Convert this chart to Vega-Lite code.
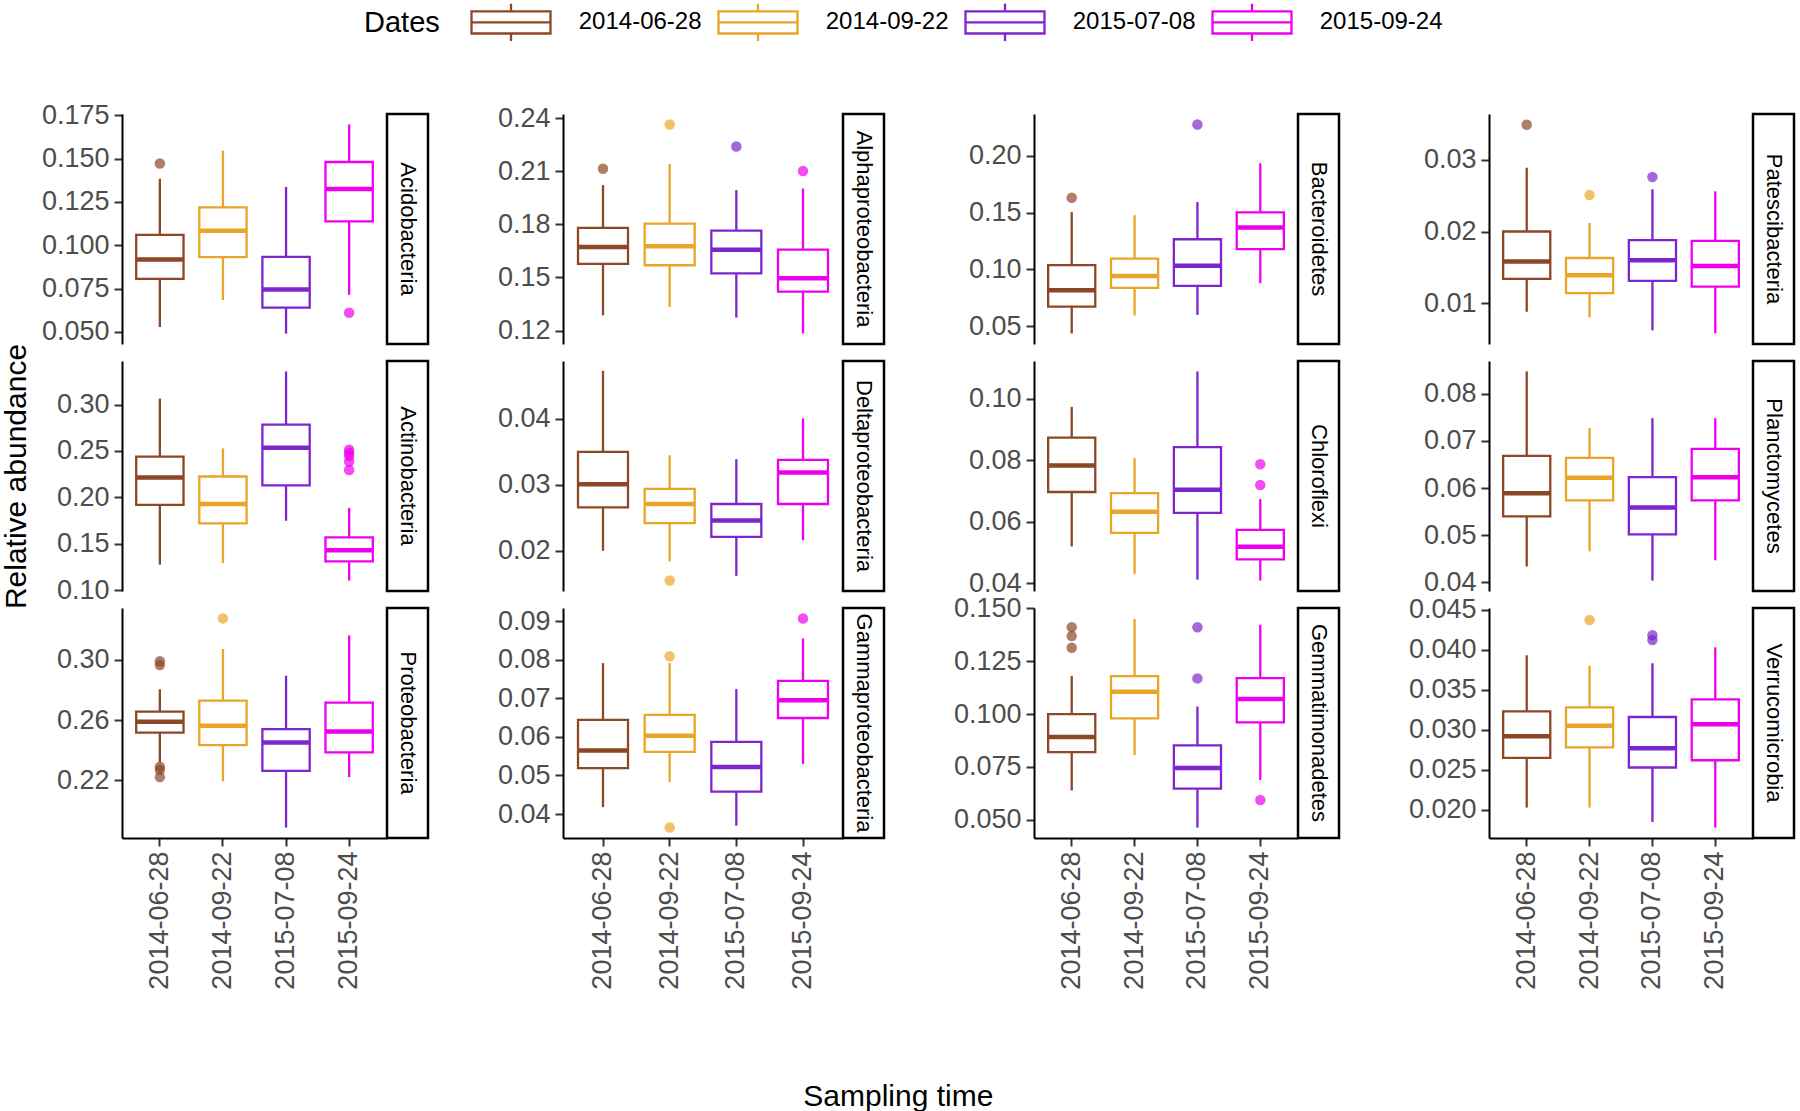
{
"$schema":"https://vega.github.io/schema/vega-lite/v6.json",
"background":"white",
"padding":{"left":1,"top":1,"right":2,"bottom":2},
"datasets":{
"s":[{"phylum":"Acidobacteria"},{"phylum":"Actinobacteria"},{"phylum":"Proteobacteria"},{"phylum":"Alphaproteobacteria"},{"phylum":"Deltaproteobacteria"},{"phylum":"Gammaproteobacteria"},{"phylum":"Bacteroidetes"},{"phylum":"Chloroflexi"},{"phylum":"Gemmatimonadetes"},{"phylum":"Patescibacteria"},{"phylum":"Planctomycetes"},{"phylum":"Verrucomicrobia"}],
"d":[
{"phylum":"Acidobacteria","date":"2014-06-28","lower":0.0528,"q1":0.0806,"median":0.0918,"q3":0.106,"upper":0.1383},
{"phylum":"Acidobacteria","date":"2014-09-22","lower":0.0684,"q1":0.0931,"median":0.1083,"q3":0.1218,"upper":0.1545},
{"phylum":"Acidobacteria","date":"2015-07-08","lower":0.049,"q1":0.064,"median":0.0745,"q3":0.0933,"upper":0.1336},
{"phylum":"Acidobacteria","date":"2015-09-24","lower":0.0714,"q1":0.1138,"median":0.1324,"q3":0.148,"upper":0.1697},
{"phylum":"Acidobacteria","date":"2014-06-28","outlier":0.1471},
{"phylum":"Acidobacteria","date":"2015-09-24","outlier":0.061},
{"phylum":"Alphaproteobacteria","date":"2014-06-28","lower":0.1286,"q1":0.1577,"median":0.1672,"q3":0.178,"upper":0.2022},
{"phylum":"Alphaproteobacteria","date":"2014-09-22","lower":0.1333,"q1":0.1569,"median":0.1677,"q3":0.1804,"upper":0.2141},
{"phylum":"Alphaproteobacteria","date":"2015-07-08","lower":0.1273,"q1":0.1523,"median":0.1657,"q3":0.1765,"upper":0.1994},
{"phylum":"Alphaproteobacteria","date":"2015-09-24","lower":0.1183,"q1":0.142,"median":0.1496,"q3":0.1657,"upper":0.2003},
{"phylum":"Alphaproteobacteria","date":"2014-06-28","outlier":0.2115},
{"phylum":"Alphaproteobacteria","date":"2014-09-22","outlier":0.2365},
{"phylum":"Alphaproteobacteria","date":"2015-07-08","outlier":0.224},
{"phylum":"Alphaproteobacteria","date":"2015-09-24","outlier":0.2102},
{"phylum":"Bacteroidetes","date":"2014-06-28","lower":0.0437,"q1":0.0673,"median":0.0818,"q3":0.1038,"upper":0.1506},
{"phylum":"Bacteroidetes","date":"2014-09-22","lower":0.0595,"q1":0.0838,"median":0.0942,"q3":0.1095,"upper":0.1477},
{"phylum":"Bacteroidetes","date":"2015-07-08","lower":0.0601,"q1":0.0856,"median":0.1032,"q3":0.1266,"upper":0.1593},
{"phylum":"Bacteroidetes","date":"2015-09-24","lower":0.0879,"q1":0.1179,"median":0.137,"q3":0.1503,"upper":0.1934},
{"phylum":"Bacteroidetes","date":"2014-06-28","outlier":0.163},
{"phylum":"Bacteroidetes","date":"2015-07-08","outlier":0.2275},
{"phylum":"Patescibacteria","date":"2014-06-28","lower":0.0088,"q1":0.0134,"median":0.0158,"q3":0.02,"upper":0.0289},
{"phylum":"Patescibacteria","date":"2014-09-22","lower":0.008,"q1":0.0114,"median":0.0139,"q3":0.0163,"upper":0.0212},
{"phylum":"Patescibacteria","date":"2015-07-08","lower":0.0062,"q1":0.0131,"median":0.016,"q3":0.0188,"upper":0.0259},
{"phylum":"Patescibacteria","date":"2015-09-24","lower":0.0058,"q1":0.0123,"median":0.0152,"q3":0.0187,"upper":0.0256},
{"phylum":"Patescibacteria","date":"2014-06-28","outlier":0.0349},
{"phylum":"Patescibacteria","date":"2014-09-22","outlier":0.0251},
{"phylum":"Patescibacteria","date":"2015-07-08","outlier":0.0276},
{"phylum":"Actinobacteria","date":"2014-06-28","lower":0.1274,"q1":0.1918,"median":0.2213,"q3":0.2438,"upper":0.3064},
{"phylum":"Actinobacteria","date":"2014-09-22","lower":0.1292,"q1":0.1719,"median":0.1929,"q3":0.2224,"upper":0.2527},
{"phylum":"Actinobacteria","date":"2015-07-08","lower":0.1747,"q1":0.2128,"median":0.2534,"q3":0.2783,"upper":0.3356},
{"phylum":"Actinobacteria","date":"2015-09-24","lower":0.1103,"q1":0.131,"median":0.143,"q3":0.1569,"upper":0.1886},
{"phylum":"Actinobacteria","date":"2015-09-24","outlier":0.2512},
{"phylum":"Actinobacteria","date":"2015-09-24","outlier":0.248},
{"phylum":"Actinobacteria","date":"2015-09-24","outlier":0.2445},
{"phylum":"Actinobacteria","date":"2015-09-24","outlier":0.2385},
{"phylum":"Actinobacteria","date":"2015-09-24","outlier":0.2295},
{"phylum":"Deltaproteobacteria","date":"2014-06-28","lower":0.02,"q1":0.0266,"median":0.0301,"q3":0.035,"upper":0.0473},
{"phylum":"Deltaproteobacteria","date":"2014-09-22","lower":0.0184,"q1":0.0242,"median":0.0271,"q3":0.0294,"upper":0.0345},
{"phylum":"Deltaproteobacteria","date":"2015-07-08","lower":0.0162,"q1":0.0221,"median":0.0246,"q3":0.0271,"upper":0.0339},
{"phylum":"Deltaproteobacteria","date":"2015-09-24","lower":0.0216,"q1":0.0271,"median":0.0319,"q3":0.0338,"upper":0.0401},
{"phylum":"Deltaproteobacteria","date":"2014-09-22","outlier":0.0155},
{"phylum":"Chloroflexi","date":"2014-06-28","lower":0.0519,"q1":0.0696,"median":0.0782,"q3":0.0873,"upper":0.0973},
{"phylum":"Chloroflexi","date":"2014-09-22","lower":0.0429,"q1":0.0563,"median":0.0632,"q3":0.0692,"upper":0.0806},
{"phylum":"Chloroflexi","date":"2015-07-08","lower":0.0411,"q1":0.0628,"median":0.0703,"q3":0.0842,"upper":0.1088},
{"phylum":"Chloroflexi","date":"2015-09-24","lower":0.0408,"q1":0.0477,"median":0.0518,"q3":0.0573,"upper":0.0673},
{"phylum":"Chloroflexi","date":"2015-09-24","outlier":0.0786},
{"phylum":"Chloroflexi","date":"2015-09-24","outlier":0.0719},
{"phylum":"Planctomycetes","date":"2014-06-28","lower":0.0434,"q1":0.054,"median":0.0589,"q3":0.0668,"upper":0.0847},
{"phylum":"Planctomycetes","date":"2014-09-22","lower":0.0466,"q1":0.0574,"median":0.0622,"q3":0.0664,"upper":0.0727},
{"phylum":"Planctomycetes","date":"2015-07-08","lower":0.0404,"q1":0.0502,"median":0.0559,"q3":0.0623,"upper":0.0748},
{"phylum":"Planctomycetes","date":"2015-09-24","lower":0.0447,"q1":0.0574,"median":0.0623,"q3":0.0683,"upper":0.0748},
{"phylum":"Proteobacteria","date":"2014-06-28","lower":0.232,"q1":0.2517,"median":0.2589,"q3":0.2657,"upper":0.2805},
{"phylum":"Proteobacteria","date":"2014-09-22","lower":0.2193,"q1":0.2434,"median":0.2563,"q3":0.2729,"upper":0.3072},
{"phylum":"Proteobacteria","date":"2015-07-08","lower":0.1887,"q1":0.2263,"median":0.2451,"q3":0.2541,"upper":0.2895},
{"phylum":"Proteobacteria","date":"2015-09-24","lower":0.2222,"q1":0.2386,"median":0.2524,"q3":0.2716,"upper":0.3162},
{"phylum":"Proteobacteria","date":"2014-06-28","outlier":0.2991},
{"phylum":"Proteobacteria","date":"2014-06-28","outlier":0.2965},
{"phylum":"Proteobacteria","date":"2014-06-28","outlier":0.229},
{"phylum":"Proteobacteria","date":"2014-06-28","outlier":0.227},
{"phylum":"Proteobacteria","date":"2014-06-28","outlier":0.2222},
{"phylum":"Proteobacteria","date":"2014-09-22","outlier":0.3275},
{"phylum":"Gammaproteobacteria","date":"2014-06-28","lower":0.0418,"q1":0.0519,"median":0.0565,"q3":0.0644,"upper":0.0791},
{"phylum":"Gammaproteobacteria","date":"2014-09-22","lower":0.0483,"q1":0.0561,"median":0.0603,"q3":0.0657,"upper":0.0792},
{"phylum":"Gammaproteobacteria","date":"2015-07-08","lower":0.037,"q1":0.0458,"median":0.0522,"q3":0.0587,"upper":0.0724},
{"phylum":"Gammaproteobacteria","date":"2015-09-24","lower":0.053,"q1":0.0649,"median":0.0695,"q3":0.0745,"upper":0.0855},
{"phylum":"Gammaproteobacteria","date":"2014-09-22","outlier":0.0809},
{"phylum":"Gammaproteobacteria","date":"2014-09-22","outlier":0.0365},
{"phylum":"Gammaproteobacteria","date":"2015-09-24","outlier":0.0907},
{"phylum":"Gemmatimonadetes","date":"2014-06-28","lower":0.0639,"q1":0.082,"median":0.0892,"q3":0.1,"upper":0.1181},
{"phylum":"Gemmatimonadetes","date":"2014-09-22","lower":0.0806,"q1":0.098,"median":0.1106,"q3":0.118,"upper":0.145},
{"phylum":"Gemmatimonadetes","date":"2015-07-08","lower":0.0463,"q1":0.0648,"median":0.0745,"q3":0.0852,"upper":0.1036},
{"phylum":"Gemmatimonadetes","date":"2015-09-24","lower":0.0689,"q1":0.0961,"median":0.1072,"q3":0.117,"upper":0.1423},
{"phylum":"Gemmatimonadetes","date":"2014-06-28","outlier":0.1411},
{"phylum":"Gemmatimonadetes","date":"2014-06-28","outlier":0.1369},
{"phylum":"Gemmatimonadetes","date":"2014-06-28","outlier":0.1314},
{"phylum":"Gemmatimonadetes","date":"2015-07-08","outlier":0.1411},
{"phylum":"Gemmatimonadetes","date":"2015-07-08","outlier":0.1169},
{"phylum":"Gemmatimonadetes","date":"2015-09-24","outlier":0.0594},
{"phylum":"Verrucomicrobia","date":"2014-06-28","lower":0.0203,"q1":0.0265,"median":0.0292,"q3":0.0323,"upper":0.0393},
{"phylum":"Verrucomicrobia","date":"2014-09-22","lower":0.0203,"q1":0.0278,"median":0.0305,"q3":0.0328,"upper":0.038},
{"phylum":"Verrucomicrobia","date":"2015-07-08","lower":0.0185,"q1":0.0253,"median":0.0277,"q3":0.0316,"upper":0.0383},
{"phylum":"Verrucomicrobia","date":"2015-09-24","lower":0.0178,"q1":0.0262,"median":0.0307,"q3":0.0338,"upper":0.0403},
{"phylum":"Verrucomicrobia","date":"2014-09-22","outlier":0.0437},
{"phylum":"Verrucomicrobia","date":"2015-07-08","outlier":0.0418},
{"phylum":"Verrucomicrobia","date":"2015-07-08","outlier":0.0412}
]},
"data":{"name":"d"},
"title":{"text":"Sampling time","orient":"bottom","anchor":"middle","frame":"bounds","fontSize":30,"fontWeight":"normal","color":"black","offset":93},
"columns":11,
"spacing":{"row":17,"column":0},
"bounds":"flush",
"align":"each",
"concat":[
  {"width":265,"height":230,"transform":[{"filter":"datum.phylum === 'Acidobacteria'"}],
   "encoding":{"x":{"field":"date","type":"nominal","title":null,"scale":{"paddingInner":0.25,"paddingOuter":0.225},"axis":null}},
   "layer":[
    {"mark":{"type":"rule","strokeWidth":2.3},"encoding":{"y":{"field":"lower","type":"quantitative","title":null,"scale":{"domain":[0.043,0.1757],"nice":false,"zero":false},"axis":{"values":[0.05,0.075,0.1,0.125,0.15,0.175],"format":".3f"}},"y2":{"field":"q1"},
     "color":{"field":"date","type":"nominal","title":"Dates","scale":{"domain":["2014-06-28","2014-09-22","2015-07-08","2015-09-24"],"range":["#8B4726","#E9A626","#7D26CD","#EE00EE"]},
      "legend":{"orient":"none","legendX":242,"legendY":-113,"direction":"horizontal","padding":0,"titleOrient":"left","titleAnchor":"middle","titleBaseline":"middle","titleFontSize":29,"titleFontWeight":"normal","titleColor":"black","titlePadding":50,"labelFontSize":24,"labelColor":"black","labelOffset":46.75,"columnPadding":10,"symbolType":"M-2.06,-0.56H2.06M2,-0.56V0.56M2.06,0.56H-2.06M-2,0.56V-0.56M-2,0H2M0,-0.56V-0.94M0,0.56V0.94","symbolSize":1560,"symbolStrokeWidth":2.3,"symbolFillColor":"white","symbolOpacity":1}}}},
    {"mark":{"type":"rule","strokeWidth":2.3},"encoding":{"y":{"field":"q3","type":"quantitative","title":null},"y2":{"field":"upper"},"color":{"field":"date","type":"nominal","legend":null}}},
    {"mark":{"type":"bar","filled":false,"strokeWidth":2.3},"encoding":{"y":{"field":"q1","type":"quantitative","title":null},"y2":{"field":"q3"},"color":{"field":"date","type":"nominal","legend":null}}},
    {"mark":{"type":"bar","filled":false,"strokeWidth":4.5},"encoding":{"y":{"field":"median","type":"quantitative","title":null},"y2":{"field":"median"},"color":{"field":"date","type":"nominal","legend":null}}},
    {"mark":{"type":"point","filled":true,"opacity":0.7,"size":110,"strokeWidth":0},"encoding":{"y":{"field":"outlier","type":"quantitative","title":null},"fill":{"field":"date","type":"nominal","scale":{"domain":["2014-06-28","2014-09-22","2015-07-08","2015-09-24"],"range":["#8B4726","#E9A626","#7D26CD","#EE00EE"]},"legend":null}}}
   ]},
  {"width":41,"height":230,"data":{"name":"s"},"transform":[{"filter":"datum.phylum === 'Acidobacteria'"}],"view":{"stroke":"black","strokeWidth":2.5},"mark":{"type":"text","angle":90,"fontSize":22,"color":"black"},"encoding":{"text":{"field":"phylum"}}},
  {"width":135,"height":230,"data":{"values":[]},"mark":"text","encoding":{}},
  {"width":280,"height":230,"transform":[{"filter":"datum.phylum === 'Alphaproteobacteria'"}],
   "encoding":{"x":{"field":"date","type":"nominal","title":null,"scale":{"paddingInner":0.25,"paddingOuter":0.225},"axis":null}},
   "layer":[
    {"mark":{"type":"rule","strokeWidth":2.3},"encoding":{"y":{"field":"lower","type":"quantitative","title":null,"scale":{"domain":[0.1124,0.2424],"nice":false,"zero":false},"axis":{"values":[0.12,0.15,0.18,0.21,0.24],"format":".2f"}},"y2":{"field":"q1"},"color":{"field":"date","type":"nominal","legend":null}}},
    {"mark":{"type":"rule","strokeWidth":2.3},"encoding":{"y":{"field":"q3","type":"quantitative","title":null},"y2":{"field":"upper"},"color":{"field":"date","type":"nominal","legend":null}}},
    {"mark":{"type":"bar","filled":false,"strokeWidth":2.3},"encoding":{"y":{"field":"q1","type":"quantitative","title":null},"y2":{"field":"q3"},"color":{"field":"date","type":"nominal","legend":null}}},
    {"mark":{"type":"bar","filled":false,"strokeWidth":4.5},"encoding":{"y":{"field":"median","type":"quantitative","title":null},"y2":{"field":"median"},"color":{"field":"date","type":"nominal","legend":null}}},
    {"mark":{"type":"point","filled":true,"opacity":0.7,"size":110,"strokeWidth":0},"encoding":{"y":{"field":"outlier","type":"quantitative","title":null},"fill":{"field":"date","type":"nominal","legend":null}}}
   ]},
  {"width":41,"height":230,"data":{"name":"s"},"transform":[{"filter":"datum.phylum === 'Alphaproteobacteria'"}],"view":{"stroke":"black","strokeWidth":2.5},"mark":{"type":"text","angle":90,"fontSize":22,"color":"black"},"encoding":{"text":{"field":"phylum"}}},
  {"width":150,"height":230,"data":{"values":[]},"mark":"text","encoding":{}},
  {"width":264,"height":230,"transform":[{"filter":"datum.phylum === 'Bacteroidetes'"}],
   "encoding":{"x":{"field":"date","type":"nominal","title":null,"scale":{"paddingInner":0.25,"paddingOuter":0.225},"axis":null}},
   "layer":[
    {"mark":{"type":"rule","strokeWidth":2.3},"encoding":{"y":{"field":"lower","type":"quantitative","title":null,"scale":{"domain":[0.0345,0.2367],"nice":false,"zero":false},"axis":{"values":[0.05,0.1,0.15,0.2],"format":".2f"}},"y2":{"field":"q1"},"color":{"field":"date","type":"nominal","legend":null}}},
    {"mark":{"type":"rule","strokeWidth":2.3},"encoding":{"y":{"field":"q3","type":"quantitative","title":null},"y2":{"field":"upper"},"color":{"field":"date","type":"nominal","legend":null}}},
    {"mark":{"type":"bar","filled":false,"strokeWidth":2.3},"encoding":{"y":{"field":"q1","type":"quantitative","title":null},"y2":{"field":"q3"},"color":{"field":"date","type":"nominal","legend":null}}},
    {"mark":{"type":"bar","filled":false,"strokeWidth":4.5},"encoding":{"y":{"field":"median","type":"quantitative","title":null},"y2":{"field":"median"},"color":{"field":"date","type":"nominal","legend":null}}},
    {"mark":{"type":"point","filled":true,"opacity":0.7,"size":110,"strokeWidth":0},"encoding":{"y":{"field":"outlier","type":"quantitative","title":null},"fill":{"field":"date","type":"nominal","legend":null}}}
   ]},
  {"width":41,"height":230,"data":{"name":"s"},"transform":[{"filter":"datum.phylum === 'Bacteroidetes'"}],"view":{"stroke":"black","strokeWidth":2.5},"mark":{"type":"text","angle":90,"fontSize":22,"color":"black"},"encoding":{"text":{"field":"phylum"}}},
  {"width":150,"height":230,"data":{"values":[]},"mark":"text","encoding":{}},
  {"width":264,"height":230,"transform":[{"filter":"datum.phylum === 'Patescibacteria'"}],
   "encoding":{"x":{"field":"date","type":"nominal","title":null,"scale":{"paddingInner":0.25,"paddingOuter":0.225},"axis":null}},
   "layer":[
    {"mark":{"type":"rule","strokeWidth":2.3},"encoding":{"y":{"field":"lower","type":"quantitative","title":null,"scale":{"domain":[0.0043,0.0364],"nice":false,"zero":false},"axis":{"values":[0.01,0.02,0.03],"format":".2f"}},"y2":{"field":"q1"},"color":{"field":"date","type":"nominal","legend":null}}},
    {"mark":{"type":"rule","strokeWidth":2.3},"encoding":{"y":{"field":"q3","type":"quantitative","title":null},"y2":{"field":"upper"},"color":{"field":"date","type":"nominal","legend":null}}},
    {"mark":{"type":"bar","filled":false,"strokeWidth":2.3},"encoding":{"y":{"field":"q1","type":"quantitative","title":null},"y2":{"field":"q3"},"color":{"field":"date","type":"nominal","legend":null}}},
    {"mark":{"type":"bar","filled":false,"strokeWidth":4.5},"encoding":{"y":{"field":"median","type":"quantitative","title":null},"y2":{"field":"median"},"color":{"field":"date","type":"nominal","legend":null}}},
    {"mark":{"type":"point","filled":true,"opacity":0.7,"size":110,"strokeWidth":0},"encoding":{"y":{"field":"outlier","type":"quantitative","title":null},"fill":{"field":"date","type":"nominal","legend":null}}}
   ]},
  {"width":41,"height":230,"data":{"name":"s"},"transform":[{"filter":"datum.phylum === 'Patescibacteria'"}],"view":{"stroke":"black","strokeWidth":2.5},"mark":{"type":"text","angle":90,"fontSize":22,"color":"black"},"encoding":{"text":{"field":"phylum"}}},

  {"width":265,"height":230,"transform":[{"filter":"datum.phylum === 'Actinobacteria'"}],
   "encoding":{"x":{"field":"date","type":"nominal","title":null,"scale":{"paddingInner":0.25,"paddingOuter":0.225},"axis":null}},
   "layer":[
    {"mark":{"type":"rule","strokeWidth":2.3},"encoding":{"y":{"field":"lower","type":"quantitative","title":"Relative abundance","scale":{"domain":[0.099,0.3469],"nice":false,"zero":false},"axis":{"values":[0.1,0.15,0.2,0.25,0.3],"format":".2f","titlePadding":25}},"y2":{"field":"q1"},"color":{"field":"date","type":"nominal","legend":null}}},
    {"mark":{"type":"rule","strokeWidth":2.3},"encoding":{"y":{"field":"q3","type":"quantitative","title":"Relative abundance"},"y2":{"field":"upper"},"color":{"field":"date","type":"nominal","legend":null}}},
    {"mark":{"type":"bar","filled":false,"strokeWidth":2.3},"encoding":{"y":{"field":"q1","type":"quantitative","title":"Relative abundance"},"y2":{"field":"q3"},"color":{"field":"date","type":"nominal","legend":null}}},
    {"mark":{"type":"bar","filled":false,"strokeWidth":4.5},"encoding":{"y":{"field":"median","type":"quantitative","title":"Relative abundance"},"y2":{"field":"median"},"color":{"field":"date","type":"nominal","legend":null}}},
    {"mark":{"type":"point","filled":true,"opacity":0.7,"size":110,"strokeWidth":0},"encoding":{"y":{"field":"outlier","type":"quantitative","title":"Relative abundance"},"fill":{"field":"date","type":"nominal","legend":null}}}
   ]},
  {"width":41,"height":230,"data":{"name":"s"},"transform":[{"filter":"datum.phylum === 'Actinobacteria'"}],"view":{"stroke":"black","strokeWidth":2.5},"mark":{"type":"text","angle":90,"fontSize":22,"color":"black"},"encoding":{"text":{"field":"phylum"}}},
  {"width":135,"height":230,"data":{"values":[]},"mark":"text","encoding":{}},
  {"width":280,"height":230,"transform":[{"filter":"datum.phylum === 'Deltaproteobacteria'"}],
   "encoding":{"x":{"field":"date","type":"nominal","title":null,"scale":{"paddingInner":0.25,"paddingOuter":0.225},"axis":null}},
   "layer":[
    {"mark":{"type":"rule","strokeWidth":2.3},"encoding":{"y":{"field":"lower","type":"quantitative","title":null,"scale":{"domain":[0.0139,0.0488],"nice":false,"zero":false},"axis":{"values":[0.02,0.03,0.04],"format":".2f"}},"y2":{"field":"q1"},"color":{"field":"date","type":"nominal","legend":null}}},
    {"mark":{"type":"rule","strokeWidth":2.3},"encoding":{"y":{"field":"q3","type":"quantitative","title":null},"y2":{"field":"upper"},"color":{"field":"date","type":"nominal","legend":null}}},
    {"mark":{"type":"bar","filled":false,"strokeWidth":2.3},"encoding":{"y":{"field":"q1","type":"quantitative","title":null},"y2":{"field":"q3"},"color":{"field":"date","type":"nominal","legend":null}}},
    {"mark":{"type":"bar","filled":false,"strokeWidth":4.5},"encoding":{"y":{"field":"median","type":"quantitative","title":null},"y2":{"field":"median"},"color":{"field":"date","type":"nominal","legend":null}}},
    {"mark":{"type":"point","filled":true,"opacity":0.7,"size":110,"strokeWidth":0},"encoding":{"y":{"field":"outlier","type":"quantitative","title":null},"fill":{"field":"date","type":"nominal","legend":null}}}
   ]},
  {"width":41,"height":230,"data":{"name":"s"},"transform":[{"filter":"datum.phylum === 'Deltaproteobacteria'"}],"view":{"stroke":"black","strokeWidth":2.5},"mark":{"type":"text","angle":90,"fontSize":22,"color":"black"},"encoding":{"text":{"field":"phylum"}}},
  {"width":150,"height":230,"data":{"values":[]},"mark":"text","encoding":{}},
  {"width":264,"height":230,"transform":[{"filter":"datum.phylum === 'Chloroflexi'"}],
   "encoding":{"x":{"field":"date","type":"nominal","title":null,"scale":{"paddingInner":0.25,"paddingOuter":0.225},"axis":null}},
   "layer":[
    {"mark":{"type":"rule","strokeWidth":2.3},"encoding":{"y":{"field":"lower","type":"quantitative","title":null,"scale":{"domain":[0.0374,0.1122],"nice":false,"zero":false},"axis":{"values":[0.04,0.06,0.08,0.1],"format":".2f"}},"y2":{"field":"q1"},"color":{"field":"date","type":"nominal","legend":null}}},
    {"mark":{"type":"rule","strokeWidth":2.3},"encoding":{"y":{"field":"q3","type":"quantitative","title":null},"y2":{"field":"upper"},"color":{"field":"date","type":"nominal","legend":null}}},
    {"mark":{"type":"bar","filled":false,"strokeWidth":2.3},"encoding":{"y":{"field":"q1","type":"quantitative","title":null},"y2":{"field":"q3"},"color":{"field":"date","type":"nominal","legend":null}}},
    {"mark":{"type":"bar","filled":false,"strokeWidth":4.5},"encoding":{"y":{"field":"median","type":"quantitative","title":null},"y2":{"field":"median"},"color":{"field":"date","type":"nominal","legend":null}}},
    {"mark":{"type":"point","filled":true,"opacity":0.7,"size":110,"strokeWidth":0},"encoding":{"y":{"field":"outlier","type":"quantitative","title":null},"fill":{"field":"date","type":"nominal","legend":null}}}
   ]},
  {"width":41,"height":230,"data":{"name":"s"},"transform":[{"filter":"datum.phylum === 'Chloroflexi'"}],"view":{"stroke":"black","strokeWidth":2.5},"mark":{"type":"text","angle":90,"fontSize":22,"color":"black"},"encoding":{"text":{"field":"phylum"}}},
  {"width":150,"height":230,"data":{"values":[]},"mark":"text","encoding":{}},
  {"width":264,"height":230,"transform":[{"filter":"datum.phylum === 'Planctomycetes'"}],
   "encoding":{"x":{"field":"date","type":"nominal","title":null,"scale":{"paddingInner":0.25,"paddingOuter":0.225},"axis":null}},
   "layer":[
    {"mark":{"type":"rule","strokeWidth":2.3},"encoding":{"y":{"field":"lower","type":"quantitative","title":null,"scale":{"domain":[0.0382,0.0869],"nice":false,"zero":false},"axis":{"values":[0.04,0.05,0.06,0.07,0.08],"format":".2f"}},"y2":{"field":"q1"},"color":{"field":"date","type":"nominal","legend":null}}},
    {"mark":{"type":"rule","strokeWidth":2.3},"encoding":{"y":{"field":"q3","type":"quantitative","title":null},"y2":{"field":"upper"},"color":{"field":"date","type":"nominal","legend":null}}},
    {"mark":{"type":"bar","filled":false,"strokeWidth":2.3},"encoding":{"y":{"field":"q1","type":"quantitative","title":null},"y2":{"field":"q3"},"color":{"field":"date","type":"nominal","legend":null}}},
    {"mark":{"type":"bar","filled":false,"strokeWidth":4.5},"encoding":{"y":{"field":"median","type":"quantitative","title":null},"y2":{"field":"median"},"color":{"field":"date","type":"nominal","legend":null}}},
    {"mark":{"type":"point","filled":true,"opacity":0.7,"size":110,"strokeWidth":0},"encoding":{"y":{"field":"outlier","type":"quantitative","title":null},"fill":{"field":"date","type":"nominal","legend":null}}}
   ]},
  {"width":41,"height":230,"data":{"name":"s"},"transform":[{"filter":"datum.phylum === 'Planctomycetes'"}],"view":{"stroke":"black","strokeWidth":2.5},"mark":{"type":"text","angle":90,"fontSize":22,"color":"black"},"encoding":{"text":{"field":"phylum"}}},

  {"width":265,"height":230,"transform":[{"filter":"datum.phylum === 'Proteobacteria'"}],
   "encoding":{"x":{"field":"date","type":"nominal","title":null,"scale":{"paddingInner":0.25,"paddingOuter":0.225},"axis":{"labelAngle":-90,"title":null}}},
   "layer":[
    {"mark":{"type":"rule","strokeWidth":2.3},"encoding":{"y":{"field":"lower","type":"quantitative","title":null,"scale":{"domain":[0.1818,0.3344],"nice":false,"zero":false},"axis":{"values":[0.22,0.26,0.3],"format":".2f"}},"y2":{"field":"q1"},"color":{"field":"date","type":"nominal","legend":null}}},
    {"mark":{"type":"rule","strokeWidth":2.3},"encoding":{"y":{"field":"q3","type":"quantitative","title":null},"y2":{"field":"upper"},"color":{"field":"date","type":"nominal","legend":null}}},
    {"mark":{"type":"bar","filled":false,"strokeWidth":2.3},"encoding":{"y":{"field":"q1","type":"quantitative","title":null},"y2":{"field":"q3"},"color":{"field":"date","type":"nominal","legend":null}}},
    {"mark":{"type":"bar","filled":false,"strokeWidth":4.5},"encoding":{"y":{"field":"median","type":"quantitative","title":null},"y2":{"field":"median"},"color":{"field":"date","type":"nominal","legend":null}}},
    {"mark":{"type":"point","filled":true,"opacity":0.7,"size":110,"strokeWidth":0},"encoding":{"y":{"field":"outlier","type":"quantitative","title":null},"fill":{"field":"date","type":"nominal","legend":null}}}
   ]},
  {"width":41,"height":230,"data":{"name":"s"},"transform":[{"filter":"datum.phylum === 'Proteobacteria'"}],"view":{"stroke":"black","strokeWidth":2.5},"mark":{"type":"text","angle":90,"fontSize":22,"color":"black"},"encoding":{"text":{"field":"phylum"}}},
  {"width":135,"height":230,"data":{"values":[]},"mark":"text","encoding":{}},
  {"width":280,"height":230,"transform":[{"filter":"datum.phylum === 'Gammaproteobacteria'"}],
   "encoding":{"x":{"field":"date","type":"nominal","title":null,"scale":{"paddingInner":0.25,"paddingOuter":0.225},"axis":{"labelAngle":-90,"title":null}}},
   "layer":[
    {"mark":{"type":"rule","strokeWidth":2.3},"encoding":{"y":{"field":"lower","type":"quantitative","title":null,"scale":{"domain":[0.0338,0.0934],"nice":false,"zero":false},"axis":{"values":[0.04,0.05,0.06,0.07,0.08,0.09],"format":".2f"}},"y2":{"field":"q1"},"color":{"field":"date","type":"nominal","legend":null}}},
    {"mark":{"type":"rule","strokeWidth":2.3},"encoding":{"y":{"field":"q3","type":"quantitative","title":null},"y2":{"field":"upper"},"color":{"field":"date","type":"nominal","legend":null}}},
    {"mark":{"type":"bar","filled":false,"strokeWidth":2.3},"encoding":{"y":{"field":"q1","type":"quantitative","title":null},"y2":{"field":"q3"},"color":{"field":"date","type":"nominal","legend":null}}},
    {"mark":{"type":"bar","filled":false,"strokeWidth":4.5},"encoding":{"y":{"field":"median","type":"quantitative","title":null},"y2":{"field":"median"},"color":{"field":"date","type":"nominal","legend":null}}},
    {"mark":{"type":"point","filled":true,"opacity":0.7,"size":110,"strokeWidth":0},"encoding":{"y":{"field":"outlier","type":"quantitative","title":null},"fill":{"field":"date","type":"nominal","legend":null}}}
   ]},
  {"width":41,"height":230,"data":{"name":"s"},"transform":[{"filter":"datum.phylum === 'Gammaproteobacteria'"}],"view":{"stroke":"black","strokeWidth":2.5},"mark":{"type":"text","angle":90,"fontSize":22,"color":"black"},"encoding":{"text":{"field":"phylum"}}},
  {"width":150,"height":230,"data":{"values":[]},"mark":"text","encoding":{}},
  {"width":264,"height":230,"transform":[{"filter":"datum.phylum === 'Gemmatimonadetes'"}],
   "encoding":{"x":{"field":"date","type":"nominal","title":null,"scale":{"paddingInner":0.25,"paddingOuter":0.225},"axis":{"labelAngle":-90,"title":null}}},
   "layer":[
    {"mark":{"type":"rule","strokeWidth":2.3},"encoding":{"y":{"field":"lower","type":"quantitative","title":null,"scale":{"domain":[0.0414,0.1502],"nice":false,"zero":false},"axis":{"values":[0.05,0.075,0.1,0.125,0.15],"format":".3f"}},"y2":{"field":"q1"},"color":{"field":"date","type":"nominal","legend":null}}},
    {"mark":{"type":"rule","strokeWidth":2.3},"encoding":{"y":{"field":"q3","type":"quantitative","title":null},"y2":{"field":"upper"},"color":{"field":"date","type":"nominal","legend":null}}},
    {"mark":{"type":"bar","filled":false,"strokeWidth":2.3},"encoding":{"y":{"field":"q1","type":"quantitative","title":null},"y2":{"field":"q3"},"color":{"field":"date","type":"nominal","legend":null}}},
    {"mark":{"type":"bar","filled":false,"strokeWidth":4.5},"encoding":{"y":{"field":"median","type":"quantitative","title":null},"y2":{"field":"median"},"color":{"field":"date","type":"nominal","legend":null}}},
    {"mark":{"type":"point","filled":true,"opacity":0.7,"size":110,"strokeWidth":0},"encoding":{"y":{"field":"outlier","type":"quantitative","title":null},"fill":{"field":"date","type":"nominal","legend":null}}}
   ]},
  {"width":41,"height":230,"data":{"name":"s"},"transform":[{"filter":"datum.phylum === 'Gemmatimonadetes'"}],"view":{"stroke":"black","strokeWidth":2.5},"mark":{"type":"text","angle":90,"fontSize":22,"color":"black"},"encoding":{"text":{"field":"phylum"}}},
  {"width":150,"height":230,"data":{"values":[]},"mark":"text","encoding":{}},
  {"width":264,"height":230,"transform":[{"filter":"datum.phylum === 'Verrucomicrobia'"}],
   "encoding":{"x":{"field":"date","type":"nominal","title":null,"scale":{"paddingInner":0.25,"paddingOuter":0.225},"axis":{"labelAngle":-90,"title":null}}},
   "layer":[
    {"mark":{"type":"rule","strokeWidth":2.3},"encoding":{"y":{"field":"lower","type":"quantitative","title":null,"scale":{"domain":[0.0165,0.0452],"nice":false,"zero":false},"axis":{"values":[0.02,0.025,0.03,0.035,0.04,0.045],"format":".3f"}},"y2":{"field":"q1"},"color":{"field":"date","type":"nominal","legend":null}}},
    {"mark":{"type":"rule","strokeWidth":2.3},"encoding":{"y":{"field":"q3","type":"quantitative","title":null},"y2":{"field":"upper"},"color":{"field":"date","type":"nominal","legend":null}}},
    {"mark":{"type":"bar","filled":false,"strokeWidth":2.3},"encoding":{"y":{"field":"q1","type":"quantitative","title":null},"y2":{"field":"q3"},"color":{"field":"date","type":"nominal","legend":null}}},
    {"mark":{"type":"bar","filled":false,"strokeWidth":4.5},"encoding":{"y":{"field":"median","type":"quantitative","title":null},"y2":{"field":"median"},"color":{"field":"date","type":"nominal","legend":null}}},
    {"mark":{"type":"point","filled":true,"opacity":0.7,"size":110,"strokeWidth":0},"encoding":{"y":{"field":"outlier","type":"quantitative","title":null},"fill":{"field":"date","type":"nominal","legend":null}}}
   ]},
  {"width":41,"height":230,"data":{"name":"s"},"transform":[{"filter":"datum.phylum === 'Verrucomicrobia'"}],"view":{"stroke":"black","strokeWidth":2.5},"mark":{"type":"text","angle":90,"fontSize":22,"color":"black"},"encoding":{"text":{"field":"phylum"}}}
],
"config":{
"font":"Liberation Sans",
"view":{"stroke":null},
"axis":{"domainColor":"black","domainWidth":2,"tickColor":"#333333","tickWidth":2,"tickSize":8,"labelColor":"#4D4D4D","labelFontSize":27,"labelPadding":5,"grid":false,"labelFlush":false,"labelOverlap":false,"titleFontSize":30,"titleFontWeight":"normal","titleColor":"black"}
}
}
